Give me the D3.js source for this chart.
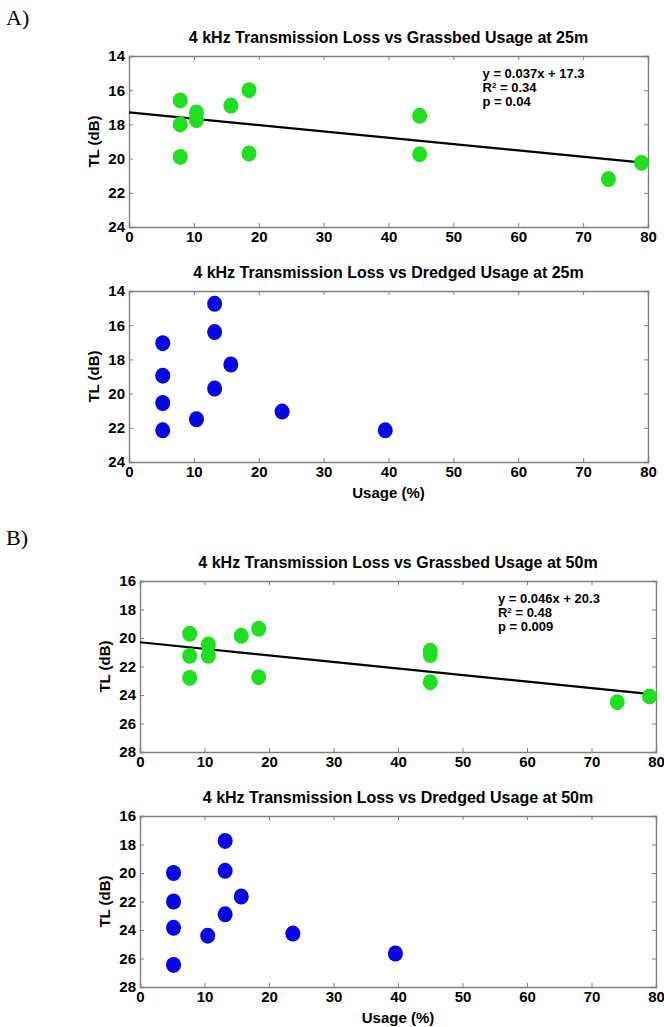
<!DOCTYPE html>
<html>
<head>
    <title>4 kHz Transmission Loss vs Usage</title>
    <script src="https://cdnjs.cloudflare.com/ajax/libs/d3/7.8.5/d3.min.js"></script>
    <style>
        html, body {
            margin: 0;
            padding: 0;
            background: #ffffff;
        }
        svg text {
            font-family: 'Liberation Sans', Arial, sans-serif;
        }
        .title { font-size: 16px; font-weight: bold; }
        .tick text { font-size: 15px; font-weight: bold; fill: #000; }
        .ylabel, .xlabel { font-size: 15px; font-weight: bold; }
        .note { font-size: 13px; font-weight: bold; }
        .panel-tag { font-family: 'Liberation Serif', 'Times New Roman', serif; font-size: 22px; }
    </style>
</head>
<body>
<div id="chart"></div>
<script>
    // usage (%) and transmission loss (dB)
    const grass25Usage = [7.9, 7.9, 7.9, 10.4, 10.4, 15.7, 18.5, 18.5, 44.8, 44.8, 73.9, 79.0];
    const grass25TL    = [16.6, 18.0, 19.9, 17.3, 17.75, 16.9, 16.0, 19.7, 17.5, 19.75, 21.2, 20.25];

    const dredge25Usage = [5.2, 5.2, 5.2, 5.2, 10.4, 13.2, 13.2, 13.2, 15.7, 23.6, 39.5];
    const dredge25TL    = [17.05, 18.95, 20.55, 22.15, 21.5, 14.75, 16.4, 19.7, 18.3, 21.05, 22.15];

    const grass50Usage = [7.7, 7.7, 7.7, 10.6, 10.6, 15.7, 18.4, 18.4, 45.0, 45.0, 45.0, 74.0, 79.0];
    const grass50TL    = [19.7, 21.25, 22.8, 20.45, 21.25, 19.85, 19.35, 22.75, 20.9, 21.2, 23.1, 24.5, 24.1];

    const dredge50Usage = [5.2, 5.2, 5.2, 5.2, 10.5, 13.2, 13.2, 13.2, 15.7, 23.7, 39.6];
    const dredge50TL    = [20.0, 22.0, 23.85, 26.45, 24.4, 17.75, 19.85, 22.9, 21.65, 24.25, 25.65];

    const fit25 = { slope: 0.037, intercept: 17.3 };
    const fit50 = { slope: 0.046, intercept: 20.3 };

    const notes25 = ['y = 0.037x + 17.3', 'R2 =  0.34', 'p = 0.04'];
    const notes50 = ['y = 0.046x + 20.3', 'R2 =  0.48', 'p = 0.009'];

    const xTicks = [0, 10, 20, 30, 40, 50, 60, 70, 80];
    const yTicks25 = [14, 16, 18, 20, 22, 24];
    const yTicks50 = [16, 18, 20, 22, 24, 26, 28];

    const green = '#1fe01f';
    const blue = '#0505e6';

    const width = 664, height = 1027;

    const svg = d3.select('#chart')
        .append('svg')
        .attr('width', width)
        .attr('height', height);

    svg.append('text').attr('class', 'panel-tag').attr('x', 6).attr('y', 25).text('A)');
    svg.append('text').attr('class', 'panel-tag').attr('x', 6).attr('y', 545).text('B)');

    const panels = [
        { title: '4 kHz Transmission Loss vs Grassbed Usage at 25m', usage: grass25Usage, tl: grass25TL,
          color: green, yTicks: yTicks25, fit: fit25, notes: notes25, noteX: 54.5, top: 56, left: 129, right: 648, xlabel: false },
        { title: '4 kHz Transmission Loss vs Dredged Usage at 25m', usage: dredge25Usage, tl: dredge25TL,
          color: blue, yTicks: yTicks25, fit: null, notes: null, top: 291, left: 129, right: 648, xlabel: true },
        { title: '4 kHz Transmission Loss vs Grassbed Usage at 50m', usage: grass50Usage, tl: grass50TL,
          color: green, yTicks: yTicks50, fit: fit50, notes: notes50, noteX: 55.5, top: 581, left: 140, right: 656, xlabel: false },
        { title: '4 kHz Transmission Loss vs Dredged Usage at 50m', usage: dredge50Usage, tl: dredge50TL,
          color: blue, yTicks: yTicks50, fit: null, notes: null, top: 816, left: 140, right: 656, xlabel: true }
    ];

    const plotHeight = 171;

    panels.forEach(p => {
        const bottom = p.top + plotHeight;
        const x = d3.scaleLinear().domain([0, 80]).range([p.left, p.right]);
        const y = d3.scaleLinear()
            .domain([p.yTicks[0], p.yTicks[p.yTicks.length - 1]])
            .range([p.top, bottom]);

        const g = svg.append('g');

        // axes, matlab style: ticks inside, box all round
        g.append('g')
            .attr('transform', 'translate(0,' + bottom + ')')
            .call(d3.axisBottom(x).tickValues(xTicks).tickSize(-4).tickPadding(4).tickFormat(d3.format('d')));
        g.append('g')
            .attr('transform', 'translate(' + p.left + ',0)')
            .call(d3.axisLeft(y).tickValues(p.yTicks).tickSize(-4).tickPadding(4).tickFormat(d3.format('d')));
        g.append('g')
            .attr('transform', 'translate(0,' + p.top + ')')
            .call(d3.axisTop(x).tickValues(xTicks).tickSize(-4).tickFormat(''));
        g.append('g')
            .attr('transform', 'translate(' + p.right + ',0)')
            .call(d3.axisRight(y).tickValues(p.yTicks).tickSize(-4).tickFormat(''));

        g.selectAll('.domain').attr('stroke', '#808080').attr('stroke-width', 1.4);
        g.selectAll('.tick line').attr('stroke', '#808080');

        g.append('text')
            .attr('class', 'title')
            .attr('x', (p.left + p.right) / 2)
            .attr('y', p.top - 13)
            .attr('text-anchor', 'middle')
            .text(p.title);

        g.append('text')
            .attr('class', 'ylabel')
            .attr('transform', 'translate(' + (p.left - 30) + ',' + (p.top + plotHeight / 2) + ') rotate(-90)')
            .attr('text-anchor', 'middle')
            .text('TL (dB)');

        if (p.xlabel) {
            g.append('text')
                .attr('class', 'xlabel')
                .attr('x', (p.left + p.right) / 2)
                .attr('y', bottom + 36)
                .attr('text-anchor', 'middle')
                .text('Usage (%)');
        }

        if (p.fit) {
            g.append('line')
                .attr('x1', x(0))
                .attr('y1', y(p.fit.intercept))
                .attr('x2', x(80))
                .attr('y2', y(p.fit.intercept + p.fit.slope * 80))
                .attr('stroke', '#000')
                .attr('stroke-width', 2.2);
        }

        g.selectAll('ellipse')
            .data(p.usage.map((u, i) => ({ u: u, tl: p.tl[i] })))
            .enter()
            .append('ellipse')
            .attr('cx', d => x(d.u))
            .attr('cy', d => y(d.tl))
            .attr('rx', 7.5)
            .attr('ry', 8)
            .attr('fill', p.color);

        if (p.notes) {
            const nx = x(p.noteX);
            const lineGap = 14;
            g.append('text')
                .attr('class', 'note')
                .attr('x', nx)
                .attr('y', p.top + 22)
                .text(p.notes[0]);
            const r2 = g.append('text')
                .attr('class', 'note')
                .attr('x', nx)
                .attr('y', p.top + 22 + lineGap);
            r2.append('tspan').text('R');
            r2.append('tspan').attr('font-size', '8px').attr('dy', -4).text('2');
            r2.append('tspan').attr('dy', 4).text(p.notes[1].slice(2));
            g.append('text')
                .attr('class', 'note')
                .attr('x', nx)
                .attr('y', p.top + 22 + 2 * lineGap)
                .text(p.notes[2]);
        }
    });
</script>
</body>
</html>
